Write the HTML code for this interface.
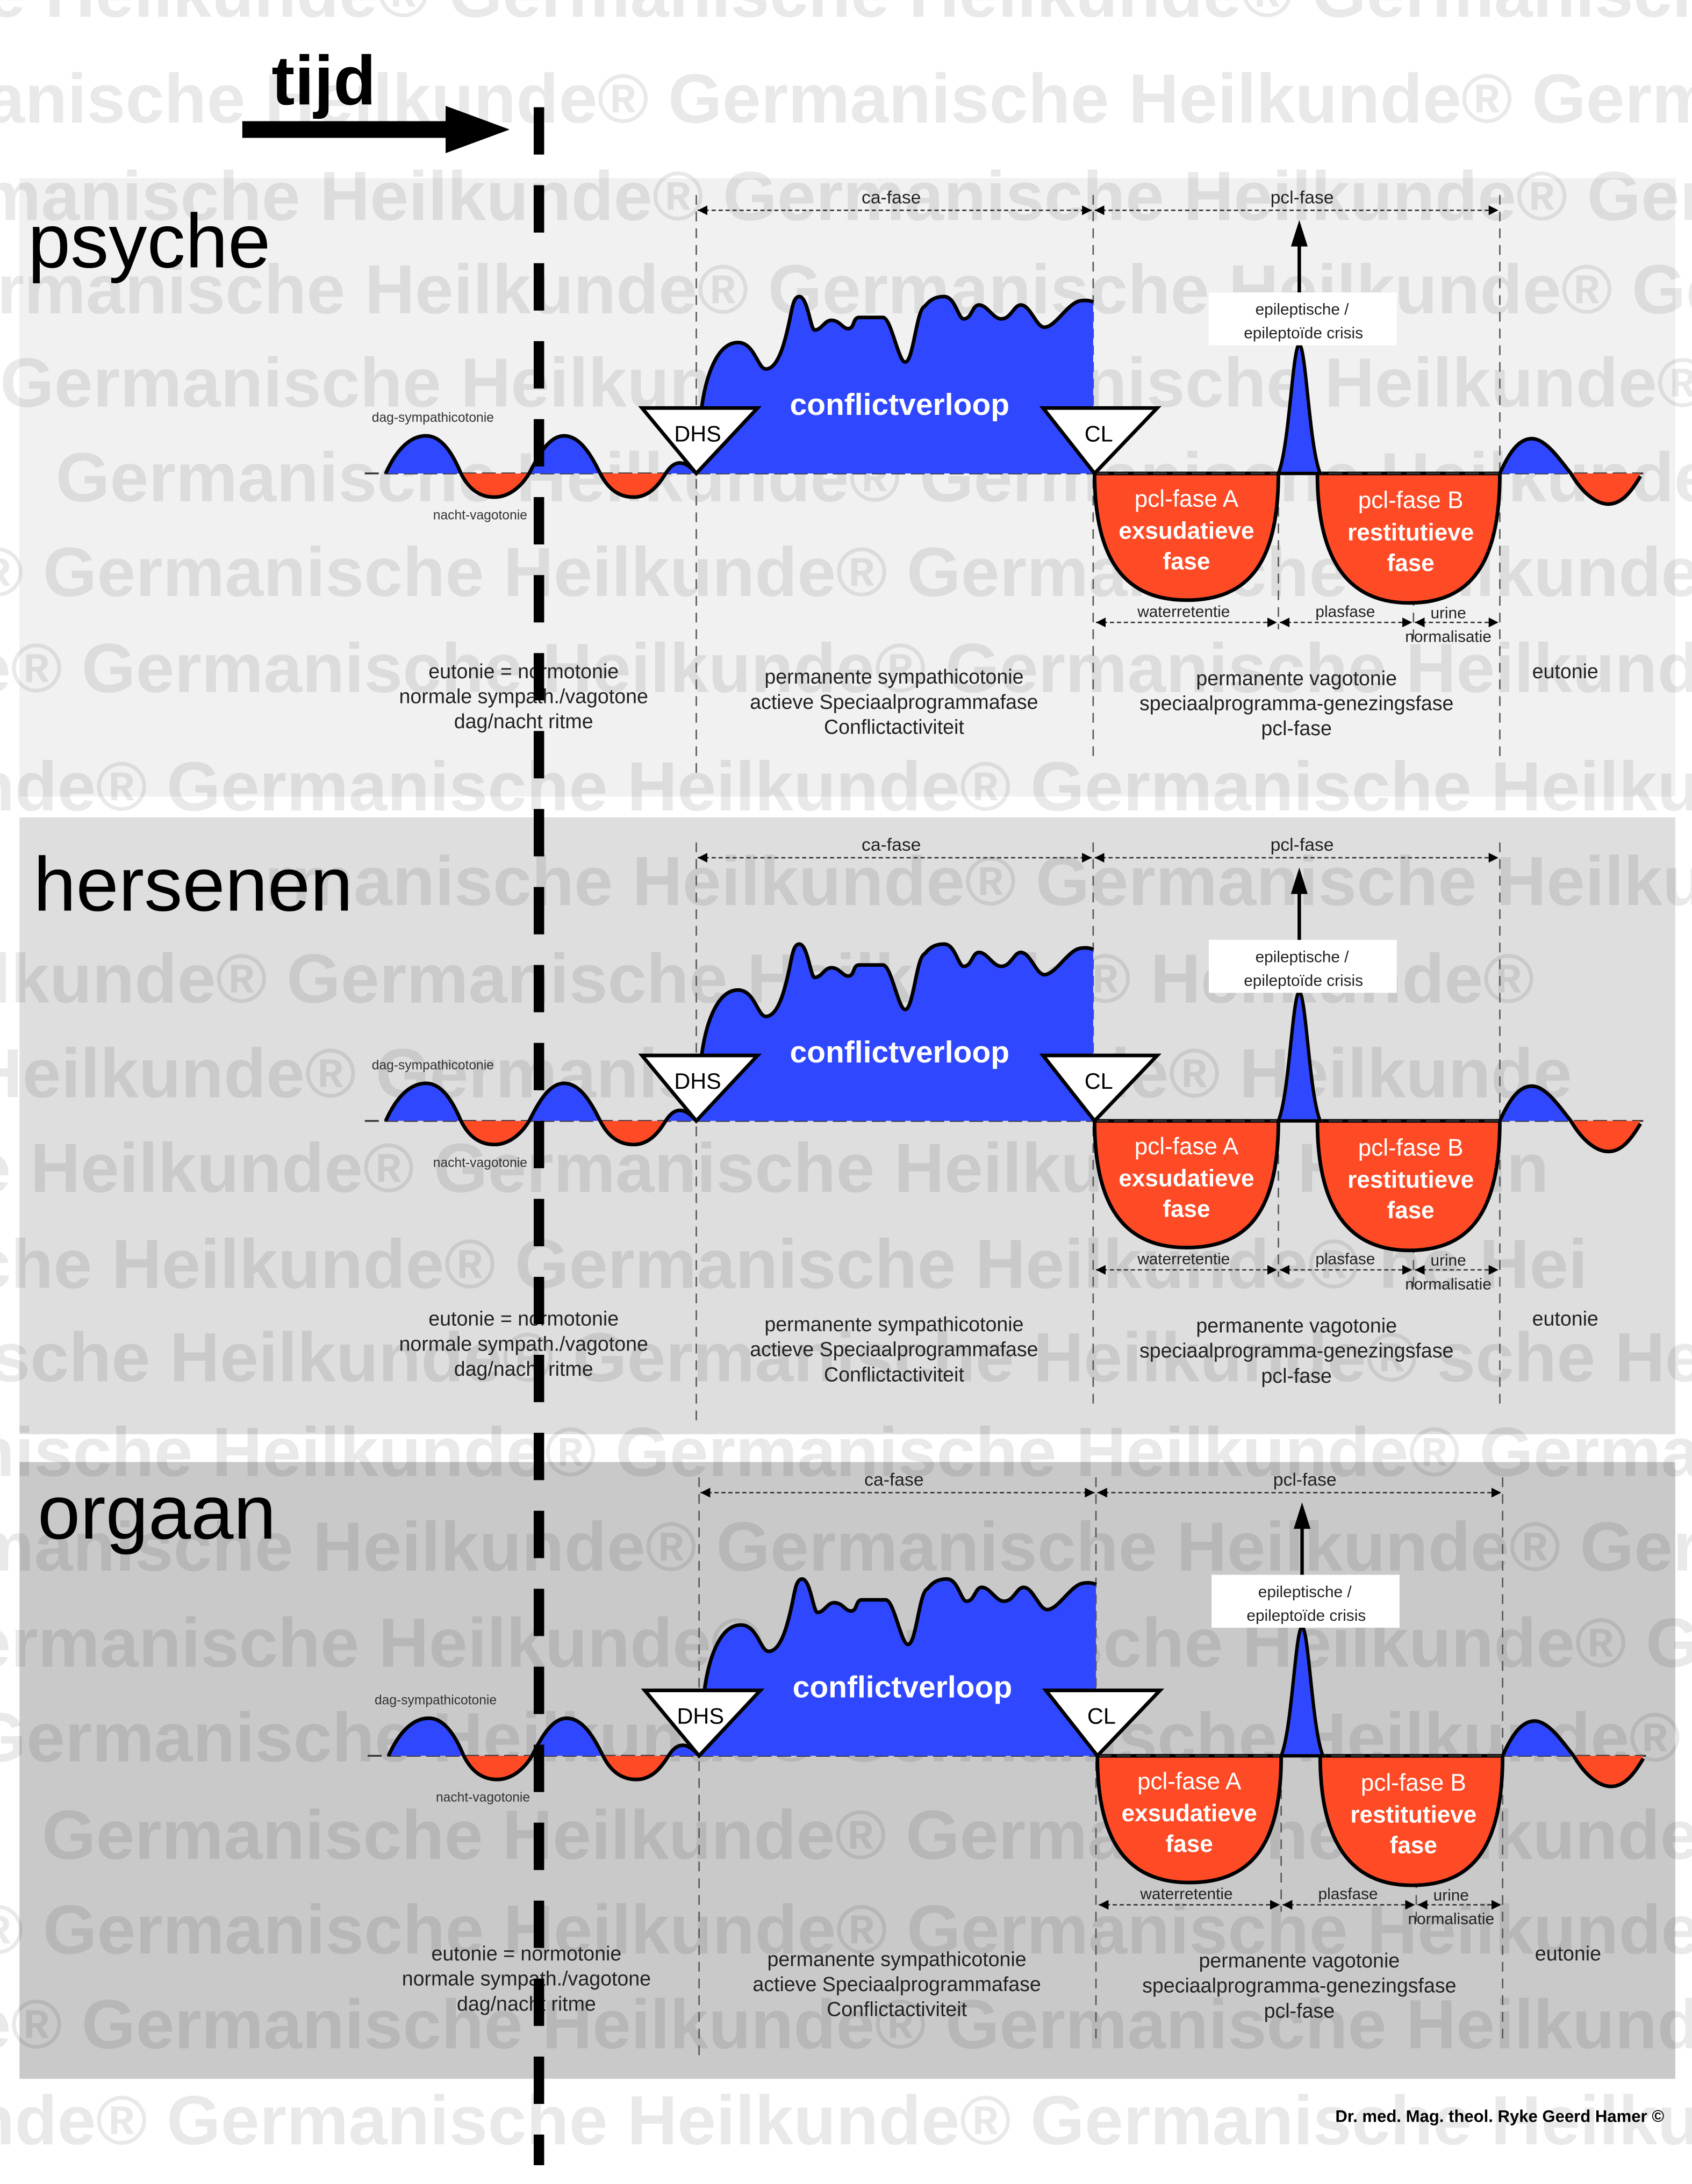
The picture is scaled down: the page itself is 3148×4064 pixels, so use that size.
<!DOCTYPE html>
<html><head><meta charset="utf-8"><style>
html,body{margin:0;padding:0;background:#fff;}
svg{display:block;}
text{font-family:"Liberation Sans",Arial,sans-serif;}
.wm{font-family:"Liberation Serif",serif;font-weight:bold;font-size:50px;fill:rgba(0,0,0,0.085);}
.sm{font-size:14.5px;fill:#222;text-anchor:middle;}
.xs{font-size:13px;fill:#222;text-anchor:middle;}
.xx{font-size:11.5px;fill:#222;text-anchor:middle;}
.tiny{font-size:9.5px;fill:#333;}
.bw{font-size:17px;fill:#fff;text-anchor:middle;}
.bb{font-size:17px;fill:#fff;text-anchor:middle;font-weight:bold;}
.ttl{font-size:55px;fill:#000;}
</style></head><body>
<svg xmlns="http://www.w3.org/2000/svg" width="3148" height="4064" viewBox="0 0 1215 1568.5">
<defs>
<clipPath id="up"><rect x="0" y="0" width="1215" height="340"/></clipPath>
<clipPath id="dn"><rect x="0" y="340" width="1215" height="200"/></clipPath>
<marker id="ar" viewBox="0 0 10 10" refX="10" refY="5" markerWidth="7" markerHeight="7" orient="auto-start-reverse"><path d="M0,0 L10,5 L0,10 Z" fill="#000"/></marker>
<g id="shapes">
  <g stroke="#555" stroke-width="1" stroke-dasharray="7,5" fill="none">
    <line x1="500" y1="140" x2="500" y2="560"/>
    <line x1="785" y1="140" x2="785" y2="545"/>
    <line x1="1077" y1="140" x2="1077" y2="545"/>
    <line x1="918" y1="340" x2="918" y2="452"/>
    <line x1="1015" y1="428" x2="1015" y2="460"/>
  </g>
  <line x1="262" y1="340" x2="1180" y2="340" stroke="#333" stroke-width="1.3" stroke-dasharray="10,4"/>
  <path d="M277,340 C285,322 295,313 306,313 C318,313 326,328 331,340 C337,352 345,357 355,357 C365,357 374,350 380,340 C386,328 394,313 405,313 C417,313 425,328 431,340 C437,352 445,357 455,357 C465,357 472,350 478,340 C483,332 490,328 500,340 Z" fill="#2f47ff" clip-path="url(#up)"/>
  <path d="M277,340 C285,322 295,313 306,313 C318,313 326,328 331,340 C337,352 345,357 355,357 C365,357 374,350 380,340 C386,328 394,313 405,313 C417,313 425,328 431,340 C437,352 445,357 455,357 C465,357 472,350 478,340 C483,332 490,328 500,340 Z" fill="#ff4a26" clip-path="url(#dn)"/>
  <path d="M277,340 C285,322 295,313 306,313 C318,313 326,328 331,340 C337,352 345,357 355,357 C365,357 374,350 380,340 C386,328 394,313 405,313 C417,313 425,328 431,340 C437,352 445,357 455,357 C465,357 472,350 478,340 C483,332 490,328 500,340" fill="none" stroke="#000" stroke-width="2.6"/>
  <path d="M1077,340 C1085,322 1092,315 1100,315 C1110,315 1120,330 1128,340 L1077,340 Z" fill="#2f47ff"/>
  <path d="M1128,340 C1135,352 1145,362 1155,362 C1165,362 1172,352 1178,340 Z" fill="#ff4a26"/>
  <path d="M1077,340 C1085,322 1092,315 1100,315 C1110,315 1120,330 1128,340 C1135,352 1145,362 1155,362 C1165,362 1172,352 1178,342" fill="none" stroke="#000" stroke-width="2.6"/>
  <path d="M500,340 L503,300 C506,270 515,246 530,246 C542,246 544,265 550,265 C560,265 565,239 567,230 C569,220 570,213 574,213 C580,213 582,237 585,237 C590,237 592,230 597,230 C603,230 605,236 609,236 C614,236 612,228 617,228 L634,228 C640,228 645,260 650,260 C656,260 658,222 664,220 C668,215 672,213 678,213 C686,213 688,229 692,229 C698,229 698,219 703,219 C709,219 713,229 719,229 C726,229 728,219 733,219 C740,219 744,235 750,235 C758,235 767,217 776,216 C782,215 785,217 785,217 L785,340 Z" fill="#2f47ff"/>
  <path d="M503,300 C506,270 515,246 530,246 C542,246 544,265 550,265 C560,265 565,239 567,230 C569,220 570,213 574,213 C580,213 582,237 585,237 C590,237 592,230 597,230 C603,230 605,236 609,236 C614,236 612,228 617,228 L634,228 C640,228 645,260 650,260 C656,260 658,222 664,220 C668,215 672,213 678,213 C686,213 688,229 692,229 C698,229 698,219 703,219 C709,219 713,229 719,229 C726,229 728,219 733,219 C740,219 744,235 750,235 C758,235 767,217 776,216 C782,215 785,217 785,217" fill="none" stroke="#000" stroke-width="2.6" stroke-linejoin="round"/>
  <path d="M786,340 C786,405 810,431 852,431 C896,431 918,405 918,340 Z" fill="#ff4a26" stroke="#000" stroke-width="2.6"/>
  <path d="M946,340 C946,405 970,433 1012,433 C1056,433 1077,405 1077,340 Z" fill="#ff4a26" stroke="#000" stroke-width="2.6"/>
  <line x1="786" y1="340" x2="1077" y2="340" stroke="#333" stroke-width="1.3" stroke-dasharray="10,4"/>
  <path d="M918,340 C926,320 928,250 933,247 C938,250 940,320 948,340 Z" fill="#2f47ff" stroke="#000" stroke-width="2.4"/>
  <line x1="933" y1="247" x2="933" y2="172" stroke="#000" stroke-width="2.5"/>
  <path d="M927,177 L933,158 L939,177 Z" fill="#000"/>
  <path d="M461,293 L544,293 L500,340 Z" fill="#fff" stroke="#000" stroke-width="2.6"/>
  <path d="M749,293 L831,293 L786,340 Z" fill="#fff" stroke="#000" stroke-width="2.6"/>
  <g stroke="#333" stroke-width="1" stroke-dasharray="3,2" fill="none" marker-start="url(#ar)" marker-end="url(#ar)">
    <line x1="501" y1="151" x2="784" y2="151"/>
    <line x1="786" y1="151" x2="1076" y2="151"/>
    <line x1="787" y1="447" x2="917" y2="447"/>
    <line x1="919" y1="447" x2="1014" y2="447"/>
    <line x1="1016" y1="447" x2="1076" y2="447"/>
  </g>
  <rect x="868" y="210" width="135" height="38" fill="#fff"/>
</g>
</defs>

<rect x="14" y="128" width="1189" height="444" fill="#f1f1f1"/>
<rect x="14" y="587" width="1189" height="443" fill="#dedede"/>
<rect x="14" y="1050" width="1189" height="443" fill="#c9c9c9"/>

<g class="wm">
<text x="-140" y="12">nische Heilkunde®  Germanische Heilkunde®  Germanische H</text>
<text x="-10" y="88">anische Heilkunde®  Germanische Heilkunde®  Germanische</text>
<text x="-15" y="158">manische Heilkunde®  Germanische Heilkunde®  Germanisch</text>
<text x="-30" y="225">ermanische Heilkunde®  Germanische Heilkunde®  Germanis</text>
<text x="0" y="292">Germanische Heilkunde®  Germanische Heilkunde®  German</text>
<text x="40" y="360">Germanische Heilkunde®  Germanische Heilkunde®  Germ</text>
<text x="-20" y="428">® Germanische Heilkunde®  Germanische Heilkunde®  Ger</text>
<text x="-20" y="497">e® Germanische Heilkunde®  Germanische Heilkunde®  G</text>
<text x="-20" y="582">nde® Germanische Heilkunde®  Germanische Heilkunde®</text>
<text x="190" y="650">rmanische Heilkunde®  Germanische Heilkunde®</text>
<text x="-20" y="720">ilkunde®  Germanische Heilkunde®  Heilkunde®</text>
<text x="-20" y="788">Heilkunde®  Germanische Heilkunde®  Heilkunde</text>
<text x="-20" y="856">e Heilkunde®  Germanische Heilkunde®  Heilkun</text>
<text x="-20" y="925">che Heilkunde®  Germanische Heilkunde®  he Hei</text>
<text x="-20" y="992">ische Heilkunde®  Germanische Heilkunde®  sche He</text>
<text x="-20" y="1060">nische Heilkunde®  Germanische Heilkunde®  Germanische</text>
<text x="-20" y="1128">manische Heilkunde®  Germanische Heilkunde®  Germanisch</text>
<text x="-20" y="1197">ermanische Heilkunde®  Germanische Heilkunde®  Germanis</text>
<text x="-20" y="1265">Germanische Heilkunde®  Germanische Heilkunde®  Germa</text>
<text x="30" y="1335">Germanische Heilkunde®  Germanische Heilkunde®  Germ</text>
<text x="-20" y="1403">® Germanische Heilkunde®  Germanische Heilkunde®  Ger</text>
<text x="-20" y="1471">e® Germanische Heilkunde®  Germanische Heilkunde®  G</text>
<text x="-20" y="1540">nde® Germanische Heilkunde®  Germanische Heilkunde®</text>
</g>

<g transform="translate(0,0)">
<use href="#shapes"/>
<text class="xs" x="640" y="146">ca-fase</text>
<text class="xs" x="935" y="146">pcl-fase</text>
<text class="xx" x="935" y="226">epileptische /</text>
<text class="xx" x="936" y="243">epileptoïde crisis</text>
<text x="646" y="298" font-size="22" font-weight="bold" fill="#fff" text-anchor="middle">conflictverloop</text>
<text x="501" y="317" font-size="16" fill="#000" text-anchor="middle">DHS</text>
<text x="789" y="317" font-size="16" fill="#000" text-anchor="middle">CL</text>
<text class="bw" x="852" y="364">pcl-fase A</text>
<text class="bb" x="852" y="387">exsudatieve</text>
<text class="bb" x="852" y="409">fase</text>
<text class="bw" x="1013" y="365">pcl-fase B</text>
<text class="bb" x="1013" y="388">restitutieve</text>
<text class="bb" x="1013" y="410">fase</text>
<text class="xx" x="850" y="443">waterretentie</text>
<text class="xx" x="966" y="443">plasfase</text>
<text class="xx" x="1040" y="444">urine</text>
<text class="xx" x="1040" y="461">normalisatie</text>
<text class="tiny" x="267" y="303">dag-sympathicotonie</text>
<text class="tiny" x="311" y="373">nacht-vagotonie</text>
<text class="sm" x="376" y="487">eutonie = normotonie</text>
<text class="sm" x="376" y="505">normale sympath./vagotone</text>
<text class="sm" x="376" y="523">dag/nacht ritme</text>
<text class="sm" x="642" y="491">permanente sympathicotonie</text>
<text class="sm" x="642" y="509">actieve Speciaalprogrammafase</text>
<text class="sm" x="642" y="527">Conflictactiviteit</text>
<text class="sm" x="931" y="492">permanente vagotonie</text>
<text class="sm" x="931" y="510">speciaalprogramma-genezingsfase</text>
<text class="sm" x="931" y="528">pcl-fase</text>
<text class="sm" x="1124" y="487">eutonie</text>
</g>
<text class="ttl" x="20" y="192">psyche</text>

<g transform="translate(0,465)">
<use href="#shapes"/>
<text class="xs" x="640" y="146">ca-fase</text>
<text class="xs" x="935" y="146">pcl-fase</text>
<text class="xx" x="935" y="226">epileptische /</text>
<text class="xx" x="936" y="243">epileptoïde crisis</text>
<text x="646" y="298" font-size="22" font-weight="bold" fill="#fff" text-anchor="middle">conflictverloop</text>
<text x="501" y="317" font-size="16" fill="#000" text-anchor="middle">DHS</text>
<text x="789" y="317" font-size="16" fill="#000" text-anchor="middle">CL</text>
<text class="bw" x="852" y="364">pcl-fase A</text>
<text class="bb" x="852" y="387">exsudatieve</text>
<text class="bb" x="852" y="409">fase</text>
<text class="bw" x="1013" y="365">pcl-fase B</text>
<text class="bb" x="1013" y="388">restitutieve</text>
<text class="bb" x="1013" y="410">fase</text>
<text class="xx" x="850" y="443">waterretentie</text>
<text class="xx" x="966" y="443">plasfase</text>
<text class="xx" x="1040" y="444">urine</text>
<text class="xx" x="1040" y="461">normalisatie</text>
<text class="tiny" x="267" y="303">dag-sympathicotonie</text>
<text class="tiny" x="311" y="373">nacht-vagotonie</text>
<text class="sm" x="376" y="487">eutonie = normotonie</text>
<text class="sm" x="376" y="505">normale sympath./vagotone</text>
<text class="sm" x="376" y="523">dag/nacht ritme</text>
<text class="sm" x="642" y="491">permanente sympathicotonie</text>
<text class="sm" x="642" y="509">actieve Speciaalprogrammafase</text>
<text class="sm" x="642" y="527">Conflictactiviteit</text>
<text class="sm" x="931" y="492">permanente vagotonie</text>
<text class="sm" x="931" y="510">speciaalprogramma-genezingsfase</text>
<text class="sm" x="931" y="528">pcl-fase</text>
<text class="sm" x="1124" y="487">eutonie</text>
</g>
<text class="ttl" x="24" y="654">hersenen</text>

<g transform="translate(2,921)">
<use href="#shapes"/>
<text class="xs" x="640" y="146">ca-fase</text>
<text class="xs" x="935" y="146">pcl-fase</text>
<text class="xx" x="935" y="226">epileptische /</text>
<text class="xx" x="936" y="243">epileptoïde crisis</text>
<text x="646" y="298" font-size="22" font-weight="bold" fill="#fff" text-anchor="middle">conflictverloop</text>
<text x="501" y="317" font-size="16" fill="#000" text-anchor="middle">DHS</text>
<text x="789" y="317" font-size="16" fill="#000" text-anchor="middle">CL</text>
<text class="bw" x="852" y="364">pcl-fase A</text>
<text class="bb" x="852" y="387">exsudatieve</text>
<text class="bb" x="852" y="409">fase</text>
<text class="bw" x="1013" y="365">pcl-fase B</text>
<text class="bb" x="1013" y="388">restitutieve</text>
<text class="bb" x="1013" y="410">fase</text>
<text class="xx" x="850" y="443">waterretentie</text>
<text class="xx" x="966" y="443">plasfase</text>
<text class="xx" x="1040" y="444">urine</text>
<text class="xx" x="1040" y="461">normalisatie</text>
<text class="tiny" x="267" y="303">dag-sympathicotonie</text>
<text class="tiny" x="311" y="373">nacht-vagotonie</text>
<text class="sm" x="376" y="487">eutonie = normotonie</text>
<text class="sm" x="376" y="505">normale sympath./vagotone</text>
<text class="sm" x="376" y="523">dag/nacht ritme</text>
<text class="sm" x="642" y="491">permanente sympathicotonie</text>
<text class="sm" x="642" y="509">actieve Speciaalprogrammafase</text>
<text class="sm" x="642" y="527">Conflictactiviteit</text>
<text class="sm" x="931" y="492">permanente vagotonie</text>
<text class="sm" x="931" y="510">speciaalprogramma-genezingsfase</text>
<text class="sm" x="931" y="528">pcl-fase</text>
<text class="sm" x="1124" y="487">eutonie</text>
</g>
<text class="ttl" x="27" y="1105">orgaan</text>

<line x1="387" y1="77" x2="387" y2="1555" stroke="#000" stroke-width="7.5" stroke-dasharray="34,22"/>
<text x="195" y="75" font-size="50" font-weight="bold" fill="#000">tijd</text>
<rect x="174" y="87" width="150" height="12" fill="#000"/>
<path d="M320,76 L366,93 L320,110 Z" fill="#000"/>

<text x="1195" y="1524" font-size="12" font-weight="bold" fill="#000" text-anchor="end">Dr. med. Mag. theol. Ryke Geerd Hamer ©</text>
</svg>
</body></html>
